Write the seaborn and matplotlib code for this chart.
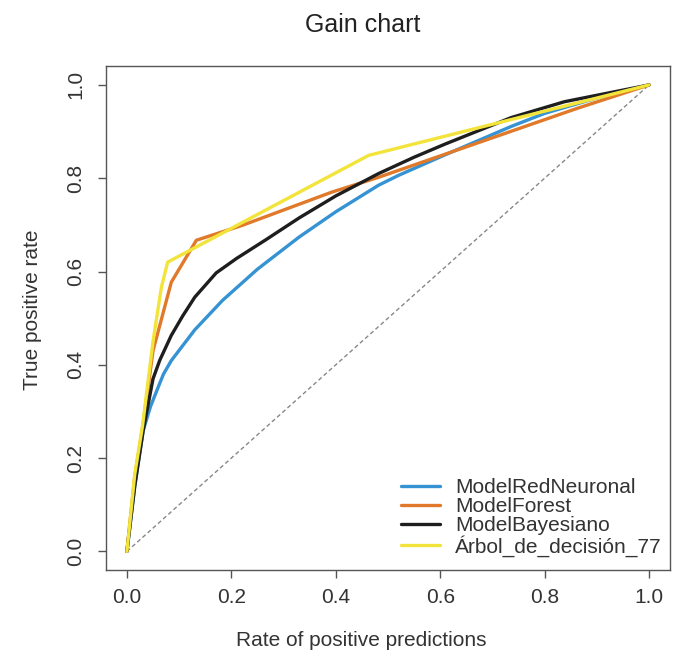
import numpy as np
import pandas as pd
import matplotlib
matplotlib.use("Agg")
import matplotlib.pyplot as plt
import seaborn as sns

# ---- data ----
red_x = [0.0, 0.015, 0.031, 0.045, 0.057, 0.07, 0.085, 0.13, 0.183, 0.25, 0.33, 0.40, 0.482, 0.52, 0.609, 0.736, 0.80, 0.90, 1.0]
red_y = [0.0, 0.14, 0.258, 0.31, 0.344, 0.38, 0.409, 0.475, 0.538, 0.605, 0.674, 0.728, 0.785, 0.806, 0.850, 0.911, 0.939, 0.972, 1.0]

forest_x = [0.0, 0.015, 0.03, 0.05, 0.085, 0.133, 0.221, 0.392, 0.482, 0.863, 1.0]
forest_y = [0.0, 0.16, 0.265, 0.43, 0.577, 0.667, 0.699, 0.770, 0.802, 0.950, 1.0]

bayes_x = [0.0, 0.015, 0.031, 0.05, 0.063, 0.085, 0.107, 0.13, 0.171, 0.21, 0.266, 0.33, 0.40, 0.482, 0.55, 0.609, 0.736, 0.838, 1.0]
bayes_y = [0.0, 0.14, 0.258, 0.37, 0.41, 0.463, 0.505, 0.545, 0.597, 0.628, 0.668, 0.715, 0.762, 0.810, 0.845, 0.873, 0.930, 0.964, 1.0]

arbol_x = [0.0, 0.015, 0.03, 0.04, 0.05, 0.066, 0.078, 0.463, 1.0]
arbol_y = [0.0, 0.165, 0.27, 0.36, 0.45, 0.566, 0.62, 0.849, 1.0]

models = ["ModelRedNeuronal", "ModelForest", "ModelBayesiano", "Árbol_de_decisión_77"]
colors = ["#3592D3", "#E07A2A", "#1E1E1E", "#F2E43A"]

x_ticks = [0.0, 0.2, 0.4, 0.6, 0.8, 1.0]
y_ticks = [0.0, 0.2, 0.4, 0.6, 0.8, 1.0]

frames = []
for name, xs, ys in zip(models,
                        [red_x, forest_x, bayes_x, arbol_x],
                        [red_y, forest_y, bayes_y, arbol_y]):
    frames.append(pd.DataFrame({"rpp": xs, "tpr": ys, "model": name}))
df = pd.concat(frames, ignore_index=True)

# ---- style ----
sns.set_theme(style="white")
plt.rcParams["font.family"] = ["Liberation Sans", "DejaVu Sans"]
plt.rcParams["axes.linewidth"] = 1.0

fig = plt.figure(figsize=(6.77, 6.56), dpi=100)
ax = fig.add_axes([0.1566, 0.131, 0.833, 0.768])

# diagonal reference
ax.plot([0, 1], [0, 1], linestyle=(0, (3, 2)), color="#888888", linewidth=1.0, zorder=1)

sns.lineplot(data=df, x="rpp", y="tpr", hue="model", hue_order=models,
             palette=dict(zip(models, colors)), sort=False, estimator=None,
             linewidth=2.4, ax=ax, zorder=3)

ax.set_xlim(-0.04, 1.04)
ax.set_ylim(-0.04, 1.04)
ax.set_xticks(x_ticks)
ax.set_yticks(y_ticks)
ax.set_xticklabels([f"{t:.1f}" for t in x_ticks], fontsize=15, color="#333333")
ax.set_yticklabels([f"{t:.1f}" for t in y_ticks], fontsize=15, color="#333333",
                   rotation=90, va="center")
ax.tick_params(axis="both", direction="out", length=6, width=1.0, color="#555555",
               bottom=True, left=True)
ax.tick_params(axis="x", pad=7)
ax.tick_params(axis="y", pad=9)
for s in ax.spines.values():
    s.set_visible(True)
    s.set_color("#555555")

ax.set_xlabel("Rate of positive predictions", fontsize=15, color="#333333")
ax.xaxis.set_label_coords(0.452, -0.12)
ax.set_ylabel("True positive rate", fontsize=15, color="#333333")
ax.yaxis.set_label_coords(-0.113, 0.516)
fig.text(0.535, 0.962, "Gain chart", fontsize=18, color="#222222", ha="center", va="center")

handles, labels = ax.get_legend_handles_labels()
leg = ax.legend(handles, labels, loc="lower right", bbox_to_anchor=(1.0, 0.01),
                frameon=False, fontsize=15, handlelength=1.9, handletextpad=0.7,
                labelspacing=0.0, borderaxespad=0.0)
for line in leg.get_lines():
    line.set_linewidth(2.4)
for t in leg.get_texts():
    t.set_color("#333333")

fig.savefig("out.png", dpi=100)
